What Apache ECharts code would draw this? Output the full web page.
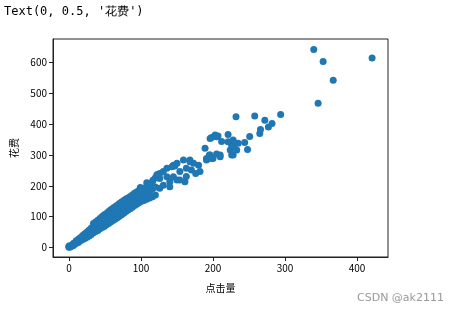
<!DOCTYPE html>
<html>
<head>
<meta charset="utf-8">
<script src="https://cdn.jsdelivr.net/npm/echarts@6/dist/echarts.min.js"></script>
<style>
html,body{margin:0;padding:0;background:#fff;}
#chart{width:456px;height:313px;}
</style>
</head>
<body>
<div id="chart"></div>
<script>
// 点击量 vs 花费 — hand-read points
const titleText = "Text(0, 0.5, '花费')";
const xAxisName = '点击量';
const yAxisName = '花费';
const xTicks = [0, 100, 200, 300, 400];
const yTicks = [0, 100, 200, 300, 400, 500, 600];
const watermark = 'CSDN @ak2111';

const denseBand = [
  [0,0],[0,2],[0,4],[2,1],[2,3],[2,5],[4,4],[4,7],[6,6],[6,9],[6,12],[8,10],[8,14],
  [10,13],[10,17],[10,21],[13,16],[13,21],[13,26],[16,21],[16,27],[16,32],
  [19,25],[19,31],[19,38],[22,29],[22,36],[22,44],[25,33],[25,41],[25,50],
  [28,37],[28,46],[28,56],[31,42],[31,52],[31,63],[34,47],[34,58],[34,70],[34,77],
  [37,51],[37,62],[37,74],[37,82],[40,55],[40,66],[40,78],[40,88],
  [43,60],[43,72],[43,84],[43,94],[46,64],[46,77],[46,90],[46,100],
  [49,68],[49,82],[49,96],[49,106],[52,73],[52,86],[52,100],[52,110],
  [55,77],[55,91],[55,105],[55,116],[58,82],[58,96],[58,110],[58,122],
  [61,87],[61,101],[61,115],[61,127],[64,91],[64,106],[64,120],[64,132],
  [67,96],[67,110],[67,125],[67,137],[70,101],[70,115],[70,130],[70,142],
  [73,106],[73,120],[73,135],[73,147],[76,111],[76,125],[76,140],[76,152],
  [79,116],[79,130],[79,146],[79,157],[82,121],[82,135],[82,150],[82,160],
  [85,125],[85,140],[85,155],[85,165],[88,130],[88,145],[88,158],[88,170],
  [91,136],[91,150],[91,165],[91,176],[94,140],[94,155],[94,170],[94,180],
  [97,145],[97,160],[97,175],[97,184],[99,194],[100,149],[100,165],[100,180],[100,190],
  [104,152],[104,170],[104,188],[108,156],[108,176],[108,198],[108,210],
  [112,160],[112,182],[112,204],[116,164],[116,190],[116,215],[120,170],[120,196],[120,226]
];

const spreadPoints = [
  [103,192],[112,202],[117,219],[122,235],[126,240],[126,224],[126,192],[131,246],[131,202],
  [136,229],[136,257],[140,213],[140,197],[143,262],[145,229],[145,267],[150,273],[150,219],
  [154,246],[154,219],[159,284],[163,257],[163,230],[168,284],[170,251],[173,273],[180,267],
  [182,246],[189,322],[191,284],[191,289],[195,300],[196,354],[196,300],[198,357],[198,289],
  [200,289],[203,365],[205,359],[205,303],[207,362],[210,300],[210,294],[212,344],[221,367],
  [221,343],[224,316],[226,332],[226,300],[228,349],[228,327],[228,300],[231,338],[233,316],
  [235,338],[232,424],[244,341],[248,318],[251,360],[258,427],[265,370],[266,383],[272,413],
  [277,391],[282,402],[294,432],[147,264],[161,213],[123,237],[176,240],[168,278]
];

const outliers = [
  [340,643],[353,604],[421,615],[367,543],[346,468]
];

const allPoints = denseBand.concat(spreadPoints, outliers);

const chart = echarts.init(document.getElementById('chart'), null, {renderer: 'canvas'});
const axisFont = 'Noto Sans CJK SC';
chart.setOption({
  animation: false,
  backgroundColor: '#fff',
  title: {
    text: titleText,
    left: 4, top: 6, padding: 0,
    textStyle: {fontFamily: 'DejaVu Sans Mono', fontSize: 12, fontWeight: 'normal', color: '#000'}
  },
  graphic: [{
    type: 'text', left: 357, top: 293,
    style: {text: watermark, fontFamily: 'DejaVu Sans', fontSize: 11, fill: '#999'}
  }],
  grid: {
    left: 53, top: 39, width: 335, height: 218,
    show: true, borderColor: '#222', borderWidth: 1, backgroundColor: 'transparent'
  },
  xAxis: {
    type: 'value', min: -22.2, max: 443.1,
    name: xAxisName, nameLocation: 'middle', nameGap: 26,
    nameTextStyle: {fontFamily: axisFont, fontSize: 10, color: '#000'},
    splitLine: {show: false},
    axisLine: {show: true, onZero: false, lineStyle: {color: '#222'}},
    axisTick: {show: true, length: 4, lineStyle: {color: '#222'}, customValues: xTicks},
    axisLabel: {fontFamily: axisFont, fontSize: 10, color: '#000', margin: 6, customValues: xTicks}
  },
  yAxis: {
    type: 'value', min: -31.5, max: 677,
    name: yAxisName, nameLocation: 'middle', nameGap: 32, nameRotate: 90,
    nameTextStyle: {fontFamily: axisFont, fontSize: 10, color: '#000'},
    splitLine: {show: false},
    axisLine: {show: true, onZero: false, lineStyle: {color: '#222'}},
    axisTick: {show: true, length: 4, lineStyle: {color: '#222'}, customValues: yTicks},
    axisLabel: {fontFamily: axisFont, fontSize: 10, color: '#000', margin: 6, customValues: yTicks}
  },
  series: [{
    type: 'scatter',
    data: allPoints,
    symbolSize: 7,
    itemStyle: {color: '#1f77b4', opacity: 1},
    silent: true
  }]
});
</script>
</body>
</html>
